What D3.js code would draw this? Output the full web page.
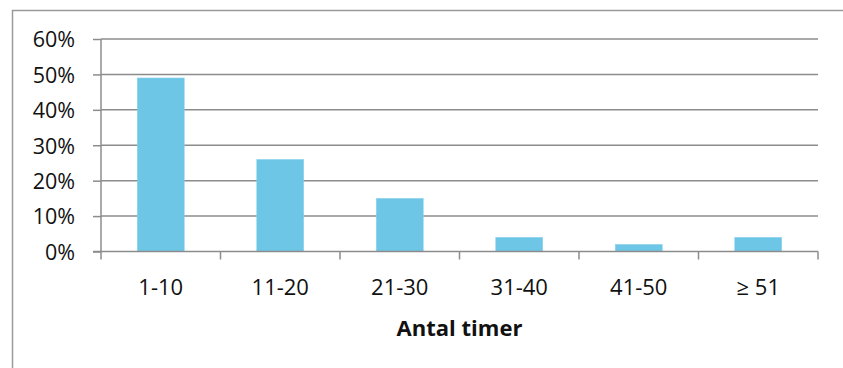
<!DOCTYPE html>
<html><head><meta charset="utf-8">
<script src="https://cdn.jsdelivr.net/npm/d3@7"></script>
<style>body{margin:0;background:#fff}svg{display:block}</style>
</head><body>
<svg id="c" width="843" height="368"></svg>
<script>
const categories = ["1-10", "11-20", "21-30", "31-40", "41-50", "\u2265 51"];
const values = [0.49, 0.26, 0.15, 0.04, 0.02, 0.04];
const yTicks = [0, 0.1, 0.2, 0.3, 0.4, 0.5, 0.6];
const xTitle = "Antal timer";

const svg = d3.select("#c");
const font = "'Open Sans', 'Liberation Sans', sans-serif";
const L = 101, R = 818, T = 39, B = 251.5;

svg.append("rect").attr("x", 12.5).attr("y", 10.5).attr("width", 850).attr("height", 400)
  .attr("fill", "none").attr("stroke", "#9a9a9a").attr("stroke-width", 1.5);

const x = d3.scaleBand().domain(categories).range([L, R]).paddingInner(0.607).paddingOuter(0.3035);
const y = d3.scaleLinear().domain([0, 0.6]).range([B, T]);

// gridlines
svg.append("g").selectAll("line").data(yTicks.filter(d => d > 0)).join("line")
  .attr("x1", L).attr("x2", R).attr("y1", d => y(d)).attr("y2", d => y(d))
  .attr("stroke", "#8c8c8c").attr("stroke-width", 1.5);

// bars
svg.append("g").selectAll("rect").data(values).join("rect")
  .attr("x", (d, i) => x(categories[i])).attr("width", x.bandwidth())
  .attr("y", d => y(d)).attr("height", d => B - y(d))
  .attr("fill", "#6ec6e6").attr("stroke", "#8ad2ec").attr("stroke-width", 0.5);

// y axis
const ya = svg.append("g").attr("transform", `translate(${L},0)`)
  .call(d3.axisLeft(y).tickValues(yTicks).tickFormat(d3.format(".0%")).tickSize(8).tickPadding(18));
ya.select(".domain").attr("stroke", "#8c8c8c").attr("stroke-width", 1.5).attr("d", `M0,${T}V${B}`);
ya.selectAll(".tick line").attr("stroke", "#8c8c8c").attr("stroke-width", 1.5);
ya.selectAll("text").attr("font-family", font).attr("font-size", 21.5).attr("fill", "#111").attr("dy", "0.36em");

// x axis baseline and ticks between categories
const xg = svg.append("g");
xg.append("line").attr("x1", L - 8).attr("x2", R).attr("y1", B).attr("y2", B)
  .attr("stroke", "#8c8c8c").attr("stroke-width", 1.5);
const bounds = d3.range(categories.length + 1).map(i => L + i * (R - L) / categories.length);
xg.selectAll("line.t").data(bounds).join("line").attr("class", "t")
  .attr("x1", d => d).attr("x2", d => d).attr("y1", B).attr("y2", B + 8)
  .attr("stroke", "#8c8c8c").attr("stroke-width", 1.5);
xg.selectAll("text").data(categories).join("text")
  .attr("x", d => x(d) + x.bandwidth() / 2).attr("y", 294.5)
  .attr("text-anchor", "middle").attr("font-family", font).attr("font-size", 22).attr("fill", "#111")
  .text(d => d);

svg.append("text").attr("x", (L + R) / 2).attr("y", 335.5).attr("text-anchor", "middle")
  .attr("font-family", font).attr("font-size", 22).attr("font-weight", "bold").attr("fill", "#111")
  .text(xTitle);
</script>
</body></html>
